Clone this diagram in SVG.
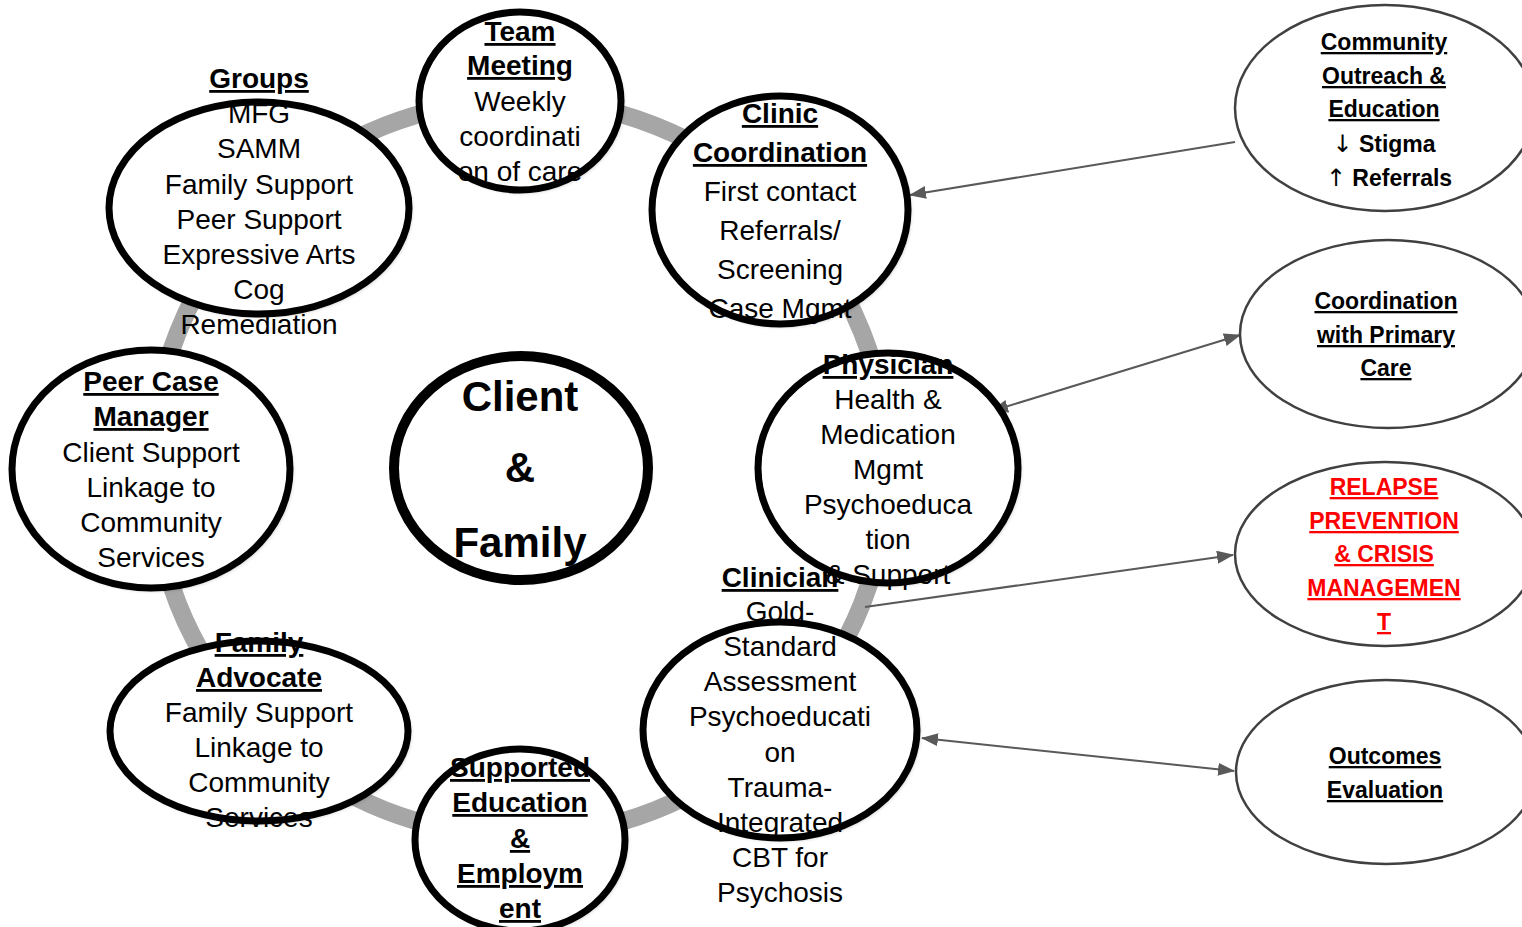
<svg xmlns="http://www.w3.org/2000/svg" width="1522" height="927" viewBox="0 0 1522 927">
<defs>
<style>
.ring{fill:none;stroke:#a6a6a6;stroke-width:18}
.fill{fill:#fff;stroke:none}
.edge{fill:none;stroke:#000;stroke-width:7}
.t{font-family:"Liberation Sans",Arial,sans-serif;font-size:28px;fill:#000;text-anchor:middle}
.h{font-weight:bold;text-decoration:underline}
.big{font-family:"Liberation Sans",Arial,sans-serif;font-size:42px;font-weight:bold;text-anchor:middle;fill:#000}
.r{font-family:"Liberation Sans",Arial,sans-serif;font-size:23px;font-weight:bold;text-anchor:middle;fill:#000}
.ar{font-family:"DejaVu Sans",sans-serif;font-weight:normal;font-size:24px}
.u{text-decoration:underline}
.red{fill:#ff0000}
.oval{fill:#fff;stroke:#404040;stroke-width:2.5}
.conn{fill:none;stroke:#595959;stroke-width:2}
</style>
<marker id="ah" markerWidth="17" markerHeight="13" refX="16" refY="6.5" orient="auto-start-reverse" markerUnits="userSpaceOnUse">
<path d="M0,0 L17,6.5 L0,13 Z" fill="#595959"/>
</marker>
<filter id="sh" x="-20%" y="-20%" width="140%" height="140%">
<feDropShadow dx="2" dy="2" stdDeviation="2" flood-color="#000" flood-opacity="0.35"/>
</filter>
</defs>
<rect width="1522" height="927" fill="#fff"/>
<circle class="ring" cx="520" cy="468" r="368"/>

<g id="connectors">
<line class="conn" x1="1235" y1="142" x2="910" y2="195" marker-end="url(#ah)"/>
<line class="conn" x1="992" y1="411" x2="1240" y2="335" marker-start="url(#ah)" marker-end="url(#ah)"/>
<line class="conn" x1="865" y1="607" x2="1233" y2="555" marker-end="url(#ah)"/>
<line class="conn" x1="922" y1="738" x2="1234" y2="771" marker-start="url(#ah)" marker-end="url(#ah)"/>
</g>

<g id="node-groups">
<ellipse class="fill" cx="259" cy="208" rx="150" ry="106" filter="url(#sh)"/>
<g class="t">
<text x="259" y="88" class="h">Groups</text>
<text x="259" y="123">MFG</text>
<text x="259" y="158">SAMM</text>
<text x="259" y="194">Family Support</text>
<text x="259" y="229">Peer Support</text>
<text x="259" y="264">Expressive Arts</text>
<text x="259" y="299">Cog</text>
<text x="259" y="334">Remediation</text>
</g>
<ellipse class="edge" cx="259" cy="208" rx="150" ry="106"/>
</g>

<g id="node-team">
<ellipse class="fill" cx="520" cy="101" rx="101" ry="89" filter="url(#sh)"/>
<g class="t">
<text x="520" y="41" class="h">Team</text>
<text x="520" y="75" class="h">Meeting</text>
<text x="520" y="111">Weekly</text>
<text x="520" y="146">coordinati</text>
<text x="520" y="181">on of care</text>
</g>
<ellipse class="edge" cx="520" cy="101" rx="101" ry="89"/>
</g>

<g id="node-clinic">
<ellipse class="fill" cx="780" cy="210" rx="128" ry="114" filter="url(#sh)"/>
<g class="t">
<text x="780" y="123" class="h">Clinic</text>
<text x="780" y="162" class="h">Coordination</text>
<text x="780" y="201">First contact</text>
<text x="780" y="240">Referrals/</text>
<text x="780" y="279">Screening</text>
<text x="780" y="318">Case Mgmt</text>
</g>
<ellipse class="edge" cx="780" cy="210" rx="128" ry="114"/>
</g>

<g id="node-physician">
<ellipse class="fill" cx="888" cy="468" rx="130" ry="115" filter="url(#sh)"/>
<g class="t">
<text x="888" y="374" class="h">Physician</text>
<text x="888" y="409">Health &amp;</text>
<text x="888" y="444">Medication</text>
<text x="888" y="479">Mgmt</text>
<text x="888" y="514">Psychoeduca</text>
<text x="888" y="549">tion</text>
</g>
<ellipse class="edge" cx="888" cy="468" rx="130" ry="115"/>
</g>

<g id="node-clinician">
<ellipse class="fill" cx="780" cy="730" rx="137" ry="108" filter="url(#sh)"/>
<g class="t">
<text x="780" y="587" class="h">Clinician</text>
<text x="780" y="621">Gold-</text>
<text x="780" y="656">Standard</text>
<text x="780" y="691">Assessment</text>
<text x="780" y="726">Psychoeducati</text>
<text x="780" y="762">on</text>
<text x="780" y="797">Trauma-</text>
<text x="780" y="832">Integrated</text>
<text x="780" y="867">CBT for</text>
<text x="780" y="902">Psychosis</text>
</g>
<ellipse class="edge" cx="780" cy="730" rx="137" ry="108"/>
<text class="t" x="888" y="584">&amp; Support</text>
</g>

<g id="node-supported">
<ellipse class="fill" cx="520" cy="840" rx="105" ry="91" filter="url(#sh)"/>
<g class="t h">
<text x="520" y="777">Supported</text>
<text x="520" y="812">Education</text>
<text x="520" y="848">&amp;</text>
<text x="520" y="883">Employm</text>
<text x="520" y="918">ent</text>
</g>
<ellipse class="edge" cx="520" cy="840" rx="105" ry="91"/>
</g>

<g id="node-family">
<ellipse class="fill" cx="259" cy="731" rx="149" ry="90" filter="url(#sh)"/>
<g class="t">
<text x="259" y="652" class="h">Family</text>
<text x="259" y="687" class="h">Advocate</text>
<text x="259" y="722">Family Support</text>
<text x="259" y="757">Linkage to</text>
<text x="259" y="792">Community</text>
<text x="259" y="827">Services</text>
</g>
<ellipse class="edge" cx="259" cy="731" rx="149" ry="90"/>
</g>

<g id="node-peer">
<ellipse class="fill" cx="151" cy="469" rx="139" ry="119" filter="url(#sh)"/>
<g class="t">
<text x="151" y="391" class="h">Peer Case</text>
<text x="151" y="426" class="h">Manager</text>
<text x="151" y="462">Client Support</text>
<text x="151" y="497">Linkage to</text>
<text x="151" y="532">Community</text>
<text x="151" y="567">Services</text>
</g>
<ellipse class="edge" cx="151" cy="469" rx="139" ry="119"/>
</g>

<g id="node-client">
<ellipse class="fill" cx="521" cy="468" rx="127" ry="112" filter="url(#sh)"/>
<text class="big" x="520" y="411">Client</text>
<text class="big" x="520" y="482">&amp;</text>
<text class="big" x="520" y="557">Family</text>
<ellipse cx="521" cy="468" rx="127" ry="112" fill="none" stroke="#000" stroke-width="10"/>
</g>

<g id="node-outreach">
<ellipse class="oval" cx="1385" cy="108" rx="150" ry="103"/>
<text class="r u" x="1384" y="50">Community</text>
<text class="r u" x="1384" y="84">Outreach &amp;</text>
<text class="r u" x="1384" y="117">Education</text>
<text class="r" x="1384" y="152"><tspan class="ar">↓</tspan> Stigma</text>
<text class="r" x="1389" y="186"><tspan class="ar">↑</tspan> Referrals</text>
</g>

<g id="node-primary">
<ellipse class="oval" cx="1388" cy="334" rx="148" ry="94"/>
<text class="r u" x="1386" y="309">Coordination</text>
<text class="r u" x="1386" y="343">with Primary</text>
<text class="r u" x="1386" y="376">Care</text>
</g>

<g id="node-relapse">
<ellipse class="oval" cx="1385" cy="554" rx="150" ry="92"/>
<text class="r u red" x="1384" y="495">RELAPSE</text>
<text class="r u red" x="1384" y="529">PREVENTION</text>
<text class="r u red" x="1384" y="562">&amp; CRISIS</text>
<text class="r u red" x="1384" y="596">MANAGEMEN</text>
<text class="r u red" x="1384" y="630">T</text>
</g>

<g id="node-outcomes">
<ellipse class="oval" cx="1386" cy="772" rx="150" ry="92"/>
<text class="r u" x="1385" y="764">Outcomes</text>
<text class="r u" x="1385" y="798">Evaluation</text>
</g>
</svg>
